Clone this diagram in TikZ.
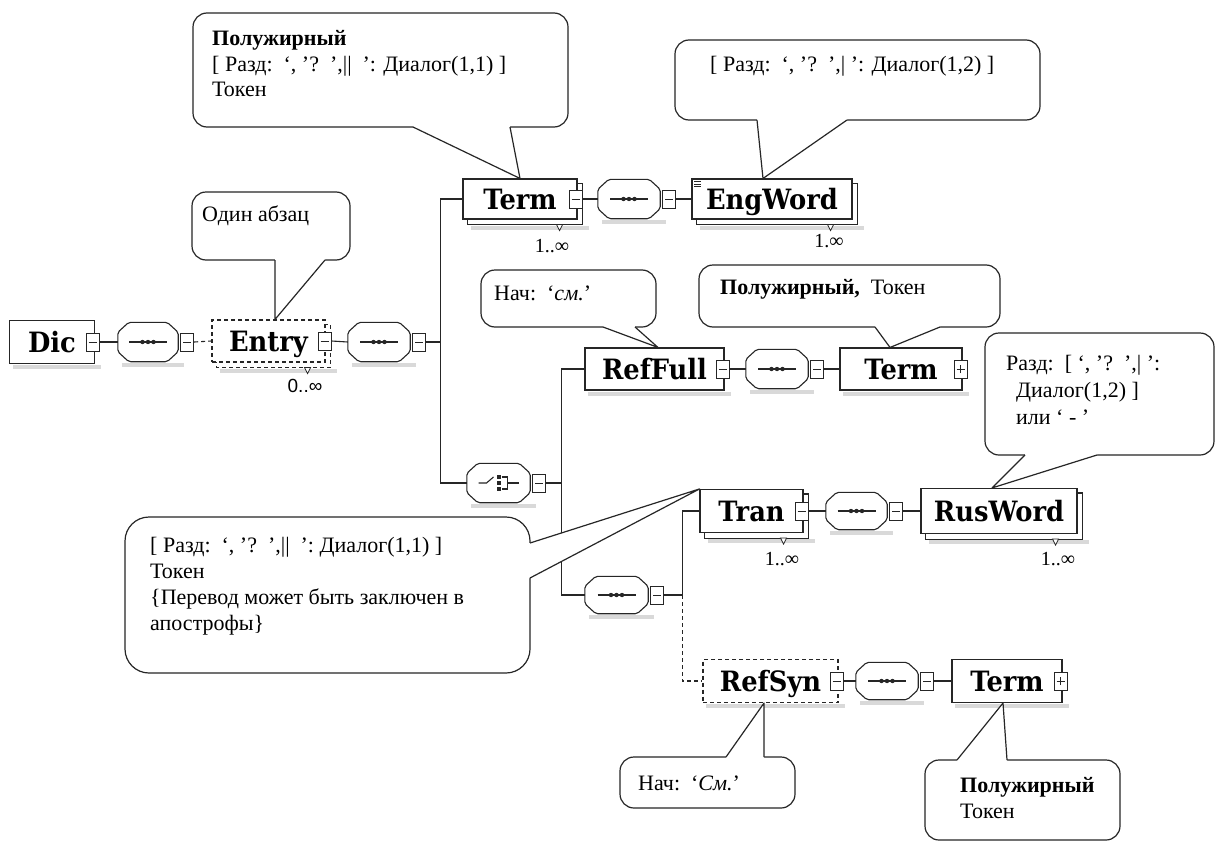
\documentclass[tikz,border=0pt]{standalone}
\usepackage{fontspec}
\setmainfont{Liberation Serif}
\newfontfamily\elfont{DejaVu Serif}[FakeStretch=0.92]
\newfontfamily\sansf{Liberation Sans}
\usetikzlibrary{calc}
\pgfdeclarelayer{bglayer}
\pgfdeclarelayer{shadowlayer}
\pgfdeclarelayer{backlayer}
\pgfsetlayers{bglayer,shadowlayer,backlayer,main}
\tikzset{
  ink/.style={draw=black!85},
  elem/.style={ink, fill=white, line width=1.1pt, inner sep=0pt, text height=20pt, text depth=0pt,
    font=\elfont\bfseries\fontsize{28}{30}\selectfont},
  optel/.style={elem, dash pattern=on 4pt off 3pt},
  octn/.style={inner sep=0pt, minimum width=62pt, minimum height=39pt},
  mbox/.style={ink, fill=white, line width=0.9pt, inner sep=0pt, minimum width=13pt, minimum height=18pt},
  conn/.style={ink, line width=1.1pt},
  optconn/.style={conn, dash pattern=on 4pt off 3pt},
  callout/.style={ink, fill=white, line width=1.2pt, rounded corners=14pt},
  ctext/.style={font=\fontsize{22}{24}\selectfont, inner sep=0pt, anchor=base west},
  mult/.style={font=\fontsize{20}{21}\selectfont, inner sep=0pt},
}
\newcommand\octshape[1]{%
  \draw[ink, line width=1.1pt, fill=white, rounded corners=2pt]
    ([xshift=11pt]#1.north west) -- ([xshift=-11pt]#1.north east) -- ([yshift=-10pt]#1.north east)
    -- ([yshift=10pt]#1.south east) -- ([xshift=-11pt]#1.south east) -- ([xshift=11pt]#1.south west)
    -- ([yshift=10pt]#1.south west) -- ([yshift=-10pt]#1.north west) -- cycle;}
\newcommand\seqsym[1]{%
  \draw[ink, line width=1.1pt] ([xshift=-19pt]#1.center) -- ([xshift=19pt]#1.center);
  \foreach \d in {-5.5,0,5.5} \fill[black!85] ([xshift=\d pt]#1.center) circle (2.2pt);}
\newcommand\choicesym[1]{%
  \draw[ink, line width=1.1pt] ([xshift=-20pt]#1.center) -- ([xshift=-12pt]#1.center) -- ([shift={(-5pt,6pt)}]#1.center);
  \foreach \d in {-6,0,6} \fill[black!85] ([shift={(0pt,\d pt)}]#1.center) ++(-2pt,-2pt) rectangle ++(4pt,4pt);
  \draw[ink, line width=1.1pt] ([shift={(3pt,6pt)}]#1.center) -- ([shift={(9pt,6pt)}]#1.center)
    -- ([shift={(9pt,-6pt)}]#1.center) -- ([shift={(3pt,-6pt)}]#1.center);
  \draw[ink, line width=1.1pt] ([xshift=9pt]#1.center) -- ([xshift=20pt]#1.center);}
\newcommand\miconv[2]{\node[mbox] (#1) at (#2) {};
  \draw[ink, line width=0.9pt] ([xshift=-4pt]#1.center) -- ([xshift=4pt]#1.center);}
\newcommand\piconv[2]{\miconv{#1}{#2}%
  \draw[ink, line width=0.9pt] ([yshift=-4pt]#1.center) -- ([yshift=4pt]#1.center);}
\newcommand\backbox[2][]{\begin{pgfonlayer}{backlayer}
  \draw[ink, line width=1.1pt, fill=white, #1] ([shift={(5pt,-5pt)}]#2.north west) rectangle ([shift={(5pt,-5pt)}]#2.south east);
  \end{pgfonlayer}}
\newcommand\dropsh[2][0]{\begin{pgfonlayer}{shadowlayer}
  \fill[gray!30] ([shift={(4pt+#1pt,-1pt-#1pt)}]#2.south west) rectangle ([shift={(6pt+#1pt,-5pt-#1pt)}]#2.south east);
  \end{pgfonlayer}}
\newcommand\pointer[2]{\draw[ink, line width=0.8pt, fill=white] ([shift={(#2-3pt,-5pt)}]#1.south east) -- ++(6pt,0pt) -- ++(-3pt,-6pt) -- cycle;}
% tails: bottom edge (x1,x2,y,tip), top edge, right edge (x,y1,y2,tip)
\newcommand\tailbot[4]{\fill[white] (#1,#3-3) -- (#1,#3) -- (#4) -- (#2,#3) -- (#2,#3-3) -- cycle;
  \draw[ink, line width=1.2pt, line join=round] (#1,#3) -- (#4) -- (#2,#3);}
\newcommand\tailtop[4]{\fill[white] (#1,#3+3) -- (#1,#3) -- (#4) -- (#2,#3) -- (#2,#3+3) -- cycle;
  \draw[ink, line width=1.2pt, line join=round] (#1,#3) -- (#4) -- (#2,#3);}
\newcommand\tailright[4]{\fill[white] (#1-3,#2) -- (#1,#2) -- (#4) -- (#1,#3) -- (#1-3,#3) -- cycle;
  \draw[ink, line width=1.2pt, line join=round] (#1,#2) -- (#4) -- (#1,#3);}
\begin{document}
\begin{tikzpicture}[x=1pt,y=-1pt]
\begin{pgfonlayer}{bglayer}\fill[white] (0,0) rectangle (1217,843);\end{pgfonlayer}
\useasboundingbox (0,0) rectangle (1217,843);

% ---- row 0
\node[elem, minimum width=85pt, minimum height=43pt] (dic) at (52,342) {Dic};
\dropsh{dic}
\miconv{dicm}{[xshift=-2.5pt]dic.east}
\node[octn, minimum width=60pt] (s1) at (148,342) {};
\octshape{s1}\seqsym{s1}\dropsh{s1}
\miconv{s1m}{[xshift=9pt]s1.east}
\node[optel, minimum width=113pt, minimum height=42pt] (entry) at (268.5,341) {Entry};
\backbox[dash pattern=on 4pt off 3pt]{entry}\dropsh[5]{entry}
\miconv{entrym}{[xshift=-1pt]entry.east}
\pointer{entry}{-18pt}
\node[octn] (s2) at (379,342) {};
\octshape{s2}\seqsym{s2}\dropsh{s2}
\miconv{s2m}{[xshift=9pt]s2.east}

% ---- row 1
\node[elem, minimum width=114pt, minimum height=40pt] (term1) at (520,199) {Term};
\backbox{term1}\dropsh[5]{term1}
\miconv{term1m}{[xshift=-2pt]term1.east}
\pointer{term1}{-18pt}
\node[octn] (s3) at (629,199) {};
\octshape{s3}\seqsym{s3}\dropsh{s3}
\miconv{s3m}{[xshift=9pt]s3.east}
\node[elem, minimum width=160pt, minimum height=40pt] (eng) at (772,199) {EngWord};
\backbox{eng}\dropsh[5]{eng}
\pointer{eng}{-22pt}
\foreach \d in {3,5.5,8} \draw[ink, line width=0.6pt] ([shift={(3pt,-\d pt)}]eng.north west) -- ++(7pt,0pt);

% ---- choice
\node[octn, minimum width=63pt] (ch) at (498.5,483) {};
\octshape{ch}\choicesym{ch}\dropsh{ch}
\miconv{chm}{[xshift=9pt]ch.east}

% ---- row 2
\node[elem, minimum width=139pt, minimum height=42pt] (reffull) at (654.5,369) {RefFull};
\dropsh{reffull}
\miconv{reffullm}{[xshift=-2pt]reffull.east}
\node[octn] (s4) at (777,369) {};
\octshape{s4}\seqsym{s4}\dropsh{s4}
\miconv{s4m}{[xshift=9pt]s4.east}
\node[elem, minimum width=122pt, minimum height=42pt] (term2) at (901,369) {Term};
\dropsh{term2}
\piconv{term2p}{[xshift=-2pt]term2.east}

% ---- sequence
\node[octn, minimum width=63pt, minimum height=37pt] (seq) at (616.5,595) {};
\octshape{seq}\seqsym{seq}\dropsh{seq}
\miconv{seqm}{[xshift=9pt]seq.east}

% ---- row 3
\node[elem, minimum width=103pt, minimum height=43pt] (tran) at (751.5,511) {Tran};
\backbox{tran}\dropsh[5]{tran}
\miconv{tranm}{[xshift=-2pt]tran.east}
\pointer{tran}{-20pt}
\node[octn, minimum width=61pt, minimum height=37pt] (s5) at (856.5,511) {};
\octshape{s5}\seqsym{s5}\dropsh{s5}
\miconv{s5m}{[xshift=9pt]s5.east}
\node[elem, minimum width=156pt, minimum height=45pt] (rusword) at (999,511) {RusWord};
\backbox{rusword}\dropsh[5]{rusword}
\pointer{rusword}{-22pt}

% ---- row 4
\node[optel, minimum width=135pt, minimum height=43pt] (refsyn) at (770.5,681) {RefSyn};
\dropsh{refsyn}
\miconv{refsynm}{[xshift=-2pt]refsyn.east}
\node[octn, minimum width=62pt, minimum height=37pt] (s6) at (887,681) {};
\octshape{s6}\seqsym{s6}\dropsh{s6}
\miconv{s6m}{[xshift=9pt]s6.east}
\node[elem, minimum width=110pt, minimum height=43pt] (term3) at (1007,681) {Term};
\dropsh{term3}
\piconv{term3p}{[xshift=-2pt]term3.east}

% ---- multiplicities
\node[mult, font=\sansf\fontsize{19}{20}\selectfont] (m0) at (305,386) {0..∞};
\node[mult] (m1) at (552,246) {1..∞};
\node[mult] (m2) at (829,241) {1.∞};
\node[mult] (m3) at (782,559) {1..∞};
\node[mult] (m4) at (1058,559) {1..∞};

% ---- connectors
\draw[conn] (dicm.east) -- (s1.west);
\draw[optconn] (s1m.east) -- (entry.west);
\draw[conn] (entrym.east) -- (s2.west);
\draw[conn] (s2m.east) -- ++(14pt,0pt) |- (term1.west);
\draw[conn] (s2m.east) -- ++(14pt,0pt) |- (ch.west);
\draw[conn] (term1m.east) -- (s3.west);
\draw[conn] (s3m.east) -- (eng.west);
\draw[conn] (chm.east) -- ++(15pt,0pt) |- (reffull.west);
\draw[conn] (chm.east) -- ++(15pt,0pt) |- (seq.west);
\draw[conn] (reffullm.east) -- (s4.west);
\draw[conn] (s4m.east) -- (term2.west);
\draw[conn] (seqm.east) -- ++(18pt,0pt) |- (tran.west);
\draw[optconn] (seqm.east) ++(18pt,0pt) |- (refsyn.west);
\draw[conn] (tranm.east) -- (s5.west);
\draw[conn] (s5m.east) -- (rusword.west);
\draw[conn] (refsynm.east) -- (s6.west);
\draw[conn] (s6m.east) -- (term3.west);

% ---- callouts
% C1
\draw[callout] (193,13) rectangle (568,127);
\tailbot{413}{510}{127}{term1.north}
\node[ctext] (c1a) at (212,46) {\textbf{Полужирный}};
\node[ctext] (c1b) at (212,71) {[ Разд:~~‘,~’?~~’,||~~’: Диалог(1,1) ]};
\node[ctext] (c1c) at (212,96) {Токен};
% C2
\draw[callout] (675,40) rectangle (1040,120);
\tailbot{757}{847}{120}{[xshift=-9pt]eng.north}
\node[ctext] (c2a) at (710,71) {[ Разд:~~‘,~’?~~’,|~’: Диалог(1,2) ]};
% C3
\draw[callout] (192,192) rectangle (350,260);
\tailbot{275}{325}{260}{[xshift=6.5pt]entry.north}
\node[ctext] (c3a) at (202,221) {Один абзац};
% C4
\draw[callout] (481,270) rectangle (656,327);
\tailbot{603}{635}{327}{[xshift=3.5pt]reffull.north}
\node[ctext] (c4a) at (494,300) {Нач:~~‘\textit{см.}’};
% C5
\draw[callout] (699,265) rectangle (1000,327);
\tailbot{875}{940}{327}{[xshift=-11pt]term2.north}
\node[ctext] (c5a) at (720,294) {\textbf{Полужирный,}~~Токен};
% C6
\draw[callout] (985,333) rectangle (1214,455);
\tailbot{1025}{1097}{455}{[xshift=-7pt]rusword.north}
\node[ctext] (c6a) at (1006,370) {Разд:~~[ ‘,~’?~~’,|~’:};
\node[ctext] (c6b) at (1016,397) {Диалог(1,2) ]};
\node[ctext] (c6c) at (1016,424) {или ‘ - ’};
% C7
\draw[callout, rounded corners=24pt] (125,517) rectangle (530,673);
\tailright{530}{543}{578}{tran.north west}
\node[ctext] (c7a) at (150,552) {[ Разд:~~‘,~’?~~’,||~~’:~Диалог(1,1) ]};
\node[ctext] (c7b) at (150,578) {Токен};
\node[ctext] (c7c) at (150,604) {\{Перевод может быть заключен в};
\node[ctext] (c7d) at (150,630) {апострофы\}};
% C8
\draw[callout] (620,757) rectangle (795,808);
\tailtop{726}{764}{757}{[xshift=-6.5pt]refsyn.south}
\node[ctext] (c8a) at (638,790) {Нач:~~‘\textit{См.}’};
% C9
\draw[callout] (925,760) rectangle (1120,840);
\tailtop{957}{1007}{760}{[xshift=-4pt]term3.south}
\node[ctext] (c9a) at (960,792) {\textbf{Полужирный}};
\node[ctext] (c9b) at (960,818) {Токен};
\end{tikzpicture}
\end{document}
